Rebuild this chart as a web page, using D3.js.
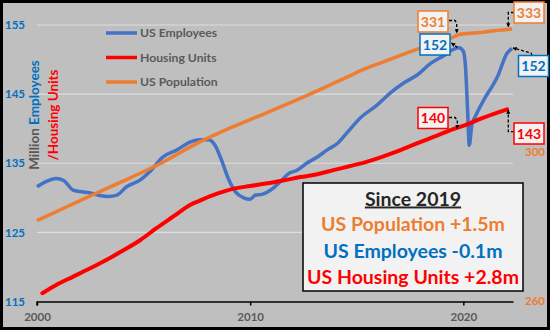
<!DOCTYPE html>
<html>
<head>
<meta charset="utf-8">
<script src="https://cdn.jsdelivr.net/npm/d3@7/dist/d3.min.js"></script>
<style>
  html, body { margin: 0; padding: 0; background: #fff; }
  svg { display: block; font-family: Lato, "Noto Sans", sans-serif; font-weight: bold; }
</style>
</head>
<body>
<svg id="chart" width="550" height="330"></svg>
<script>
// ---- data (million) ----
const empYears = [2000.0, 2000.4, 2000.9, 2001.25, 2001.7, 2002.0, 2002.5, 2003.0, 2003.35, 2003.75,
  2004.2, 2004.85, 2005.3, 2005.9, 2006.55, 2007.2, 2007.65, 2008.05, 2008.35, 2008.65,
  2009.0, 2009.3, 2009.7, 2010.0, 2010.25, 2010.55, 2010.95, 2011.4, 2011.8, 2012.2,
  2012.65, 2013.15, 2013.6, 2014.1, 2014.6, 2015.15, 2015.95, 2016.55, 2017.2, 2017.85,
  2018.45, 2019.1, 2019.55, 2019.8, 2020.0, 2020.1, 2020.2, 2020.28, 2020.4, 2020.55,
  2020.95, 2021.6, 2022.05, 2022.28];
const empValues = [131.6, 132.3, 132.8, 132.5, 131.1, 130.9, 130.7, 130.3, 130.2, 130.4,
  131.6, 132.6, 133.8, 135.9, 136.9, 138.1, 138.4, 138.4, 137.6, 135.5,
  132.6, 130.9, 130.0, 129.8, 130.4, 130.5, 131.1, 132.3, 133.5, 134.0,
  135.0, 135.9, 136.9, 137.9, 139.6, 141.5, 143.4, 145.1, 146.6, 147.8,
  149.4, 150.6, 151.5, 151.7, 151.2, 149.0, 142.7, 137.6, 140.6, 141.7,
  144.1, 147.5, 150.9, 151.6];

const housingYears = [2000.25, 2000.9, 2001.7, 2002.5, 2003.25, 2004.05, 2004.85, 2005.6, 2006.4, 2007.2,
  2007.65, 2008.1, 2008.45, 2009.2, 2010.0, 2010.8, 2011.55, 2012.35, 2013.15, 2013.9,
  2014.7, 2015.45, 2016.25, 2017.05, 2017.85, 2018.6, 2019.4, 2020.15, 2020.95, 2022.05];
const housingValues = [116.2, 117.4, 118.6, 119.8, 121.0, 122.4, 123.9, 125.6, 127.3, 129.0,
  129.6, 130.2, 130.6, 131.3, 131.7, 132.1, 132.5, 133.0, 133.4, 134.0,
  134.6, 135.2, 136.0, 136.9, 137.9, 138.8, 139.8, 140.6, 141.6, 142.8];

const popYears = [2000.0, 2001.25, 2002.8, 2004.35, 2005.95, 2007.5, 2009.2, 2010.8, 2012.35, 2013.9,
  2014.7, 2015.15, 2016.25, 2017.85, 2019.4, 2019.85, 2020.65, 2021.25, 2022.05, 2022.28];
const popValues = [281.6, 284.9, 289.0, 293.0, 297.4, 302.3, 306.8, 310.6, 314.4, 318.4,
  320.5, 321.8, 324.2, 327.6, 330.5, 331.6, 332.0, 332.4, 332.9, 333.0];

const xTicks = [2000, 2010, 2020];
const leftTicks = [115, 125, 135, 145, 155];
const rightTicks = [260, 300];

const legendNames = ["US Employees", "Housing Units", "US Population"];
const summaryTitle = "Since 2019";
const summaryLines = ["US Population +1.5m", "US Employees -0.1m", "US Housing Units +2.8m"];

const calloutLabels = ["331", "333", "152", "152", "140", "143"];

// ---- colours ----
const cEmp = "#4472C4", cHouse = "#FF0000", cPop = "#ED7D31";
const cEmpText = "#0070C0", cGrey = "#595959";

const svg = d3.select("#chart");
const W = 550, H = 330;

// chart background with frame
svg.append("rect").attr("x", 1.5).attr("y", 1.5).attr("width", W - 3).attr("height", H - 3)
  .attr("fill", "#bfbfbf").attr("stroke", "#000").attr("stroke-width", 3);

const x = d3.scaleLinear().domain([2000, 2022.33]).range([37, 513]);
const yL = d3.scaleLinear().domain([115, 155]).range([301.5, 25]);
const yR = d3.scaleLinear().domain([260, 300]).range([301, 152]);

// gridlines
svg.append("g").selectAll("line").data(leftTicks.slice(1)).join("line")
  .attr("x1", x(2000)).attr("x2", 513)
  .attr("y1", d => yL(d)).attr("y2", d => yL(d))
  .attr("stroke", "#dedede").attr("stroke-width", 1.2);

// x axis
const xAxis = svg.append("g").attr("transform", `translate(0,${yL(115)})`)
  .call(d3.axisBottom(x).tickValues(xTicks).tickFormat(d3.format("d")).tickSize(4).tickSizeOuter(0));
xAxis.select(".domain").attr("stroke", "#000").attr("stroke-width", 1.5);
xAxis.selectAll(".tick line").attr("stroke", "#000").attr("stroke-width", 1.5);
xAxis.selectAll(".tick text").attr("fill", cGrey).attr("font-size", 11.5)
  .attr("font-family", "Lato, sans-serif").attr("font-weight", "bold").attr("dy", "1.05em");
svg.append("line").attr("x1", x(2000)).attr("x2", x(2000)).attr("y1", yL(115)).attr("y2", yL(115) + 4)
  .attr("stroke", "#000").attr("stroke-width", 1.5);

// left axis labels
const lAxis = svg.append("g").attr("transform", "translate(25,0)")
  .call(d3.axisLeft(yL).tickValues(leftTicks).tickSize(0).tickPadding(0));
lAxis.select(".domain").remove();
lAxis.selectAll("text").attr("fill", cEmpText).attr("font-size", 11.5)
  .attr("font-family", "Lato, sans-serif").attr("font-weight", "bold");

// right axis labels
const rAxis = svg.append("g").attr("transform", "translate(525,0)")
  .call(d3.axisRight(yR).tickValues(rightTicks).tickSize(0).tickPadding(0));
rAxis.select(".domain").remove();
rAxis.selectAll("text").attr("fill", cPop).attr("font-size", 11.5)
  .attr("font-family", "Lato, sans-serif").attr("font-weight", "bold");

// axis title
const t1 = svg.append("text").attr("transform", "translate(39,115) rotate(-90)")
  .attr("text-anchor", "middle").attr("font-size", 13.5);
t1.append("tspan").attr("fill", cGrey).text("Million ");
t1.append("tspan").attr("fill", cEmpText).text("Employees");
svg.append("text").attr("transform", "translate(58,115) rotate(-90)")
  .attr("text-anchor", "middle").attr("font-size", 13.5).attr("fill", cHouse).text("/Housing Units");

// series lines
const lineL = d3.line().x(d => x(d[0])).y(d => yL(d[1])).curve(d3.curveMonotoneX);
const lineR = d3.line().x(d => x(d[0])).y(d => yR(d[1])).curve(d3.curveMonotoneX);
svg.append("path").datum(d3.zip(empYears, empValues)).attr("d", lineL)
  .attr("fill", "none").attr("stroke", cEmp).attr("stroke-width", 3.5).attr("stroke-linejoin", "round");
svg.append("path").datum(d3.zip(housingYears, housingValues)).attr("d", lineL)
  .attr("fill", "none").attr("stroke", cHouse).attr("stroke-width", 4).attr("stroke-linecap", "round");
svg.append("path").datum(d3.zip(popYears, popValues)).attr("d", lineR)
  .attr("fill", "none").attr("stroke", cPop).attr("stroke-width", 3.5);

// legend
const legColors = [cEmp, cHouse, cPop];
const leg = svg.append("g").selectAll("g").data(legendNames).join("g")
  .attr("transform", (d, i) => `translate(106,${33 + i * 24.5})`);
leg.append("line").attr("x1", 0).attr("x2", 31).attr("stroke", (d, i) => legColors[i]).attr("stroke-width", 3.5);
leg.append("text").attr("x", 34).attr("dy", "0.36em").attr("font-size", 12.2).attr("fill", cGrey).text(d => d);

// summary box
const box = svg.append("g");
box.append("rect").attr("x", 303).attr("y", 183).attr("width", 220).attr("height", 108)
  .attr("fill", "#f2f2f2").attr("stroke", "#000").attr("stroke-width", 1.5);
const cx = 413;
box.append("text").attr("x", cx).attr("y", 205.5).attr("text-anchor", "middle")
  .attr("font-size", 19.5).attr("fill", "#262626").attr("text-decoration", "underline").text(summaryTitle);
const sumColors = [cPop, cEmpText, cHouse];
box.selectAll("text.s").data(summaryLines).join("text").attr("class", "s")
  .attr("x", cx).attr("y", (d, i) => 231 + i * 26.5).attr("text-anchor", "middle")
  .attr("font-size", 19.5).attr("fill", (d, i) => sumColors[i]).text(d => d);

// callouts with dashed leader arrows
svg.append("defs").append("marker").attr("id", "ah").attr("viewBox", "0 0 10 10")
  .attr("refX", 9).attr("refY", 5).attr("markerWidth", 3.2).attr("markerHeight", 3.2)
  .attr("orient", "auto-start-reverse")
  .append("path").attr("d", "M0,0 L10,5 L0,10 z").attr("fill", "#000");

const callouts = [
  { label: calloutLabels[0], color: cPop, bx: 418, by: 11, arrow: [[449, 20.5], [455, 20.5], [456.7, 23], [456.7, 33]] },
  { label: calloutLabels[1], color: cPop, bx: 514, by: 2, arrow: [[514, 12.5], [508.3, 12.5], [508.3, 15], [508.3, 27]] },
  { label: calloutLabels[2], color: cEmpText, bx: 420, by: 34, arrow: [[457.5, 47.5], [451.5, 43]] },
  { label: calloutLabels[3], color: cEmpText, bx: 518.5, by: 55.5, arrow: [[532, 55.5], [531, 53], [513, 48]] },
  { label: calloutLabels[4], color: cHouse, bx: 418, by: 107.5, arrow: [[449, 117.5], [455, 117.5], [457.3, 120], [457.3, 128.5]] },
  { label: calloutLabels[5], color: cHouse, bx: 514, by: 123, arrow: [[514, 131.7], [508.3, 131.7], [508.3, 129], [508.3, 110]] }
];
const cg = svg.append("g").selectAll("g").data(callouts).join("g");
cg.append("path").attr("d", d => d3.line()(d.arrow)).attr("fill", "none")
  .attr("stroke", "#000").attr("stroke-width", 1.3).attr("stroke-dasharray", "3,2")
  .attr("marker-end", "url(#ah)");
cg.append("rect").attr("x", d => d.bx).attr("y", d => d.by).attr("width", 30).attr("height", 21)
  .attr("fill", "#f2f2f2").attr("stroke", d => d.color).attr("stroke-width", 1.5);
cg.append("text").attr("x", d => d.bx + 15).attr("y", d => d.by + 15.5).attr("text-anchor", "middle")
  .attr("font-size", 14).attr("fill", d => d.color).text(d => d.label);
</script>
</body>
</html>
